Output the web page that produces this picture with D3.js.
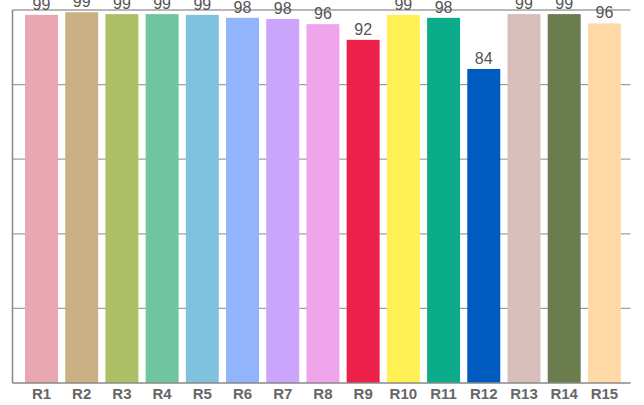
<!DOCTYPE html>
<html><head><meta charset="utf-8">
<script src="https://cdn.jsdelivr.net/npm/d3@7"></script>
<style>html,body{margin:0;padding:0;background:#fff;overflow:hidden}</style>
</head><body>
<svg id="c" width="644" height="405"></svg>
<script>
const categories = ["R1","R2","R3","R4","R5","R6","R7","R8","R9","R10","R11","R12","R13","R14","R15"];
const values = [98.7, 99.4, 98.9, 98.9, 98.7, 97.9, 97.6, 96.2, 92.0, 98.7, 97.9, 84.2, 98.9, 98.9, 96.4];
const colors = ["#e8a6b0","#cbb083","#adc066","#6fc5a0","#80c1df","#91b4fc","#cba4fc","#f0a4ec","#ec2049","#fff153","#0aac8a","#005bc0","#d8bfbb","#6b7c4f","#ffd9a6"];
const yTicks = [0, 20, 40, 60, 80, 100];

(function () {
const svg = d3.select("#c");
const mLeft = 12.5, mRight = 630.5, mTop = 10, mBottom = 383;
const x = d3.scaleBand().domain(categories).range([mLeft, mRight]).paddingInner(0.18).paddingOuter(0.275).align(0.565);
const y = d3.scaleLinear().domain([0, 100]).range([mBottom, mTop]);

// gridlines
svg.append("g").selectAll("line").data(yTicks.slice(1)).join("line")
  .attr("x1", mLeft).attr("x2", mRight)
  .attr("y1", d => y(d)).attr("y2", d => y(d))
  .attr("stroke", "#a0a0a0").attr("stroke-width", 1.3);

// bars
svg.append("g").selectAll("rect").data(values).join("rect")
  .attr("x", (d, i) => x(categories[i]))
  .attr("width", x.bandwidth())
  .attr("y", d => y(d))
  .attr("height", d => y(0) - y(d))
  .attr("fill", (d, i) => colors[i]);

// value labels
svg.append("g").selectAll("text").data(values).join("text")
  .attr("x", (d, i) => x(categories[i]) + x.bandwidth() / 2)
  .attr("y", d => y(d) - 5)
  .attr("text-anchor", "middle")
  .attr("font-family", "Liberation Sans, Arial, sans-serif")
  .attr("font-size", 16)
  .attr("fill", "#555")
  .text(d => Math.round(d));

// x axis
const xAxis = svg.append("g").attr("transform", `translate(0,${mBottom})`)
  .call(d3.axisBottom(x).tickSize(0).tickPadding(5));
xAxis.select(".domain").remove();
xAxis.selectAll("text")
  .attr("font-family", "Liberation Sans, Arial, sans-serif")
  .attr("font-size", 15).attr("font-weight", "bold").attr("fill", "#666");
svg.append("line").attr("x1", mLeft).attr("x2", mRight).attr("y1", mBottom).attr("y2", mBottom)
  .attr("stroke", "#888").attr("stroke-width", 1.5);

// y axis line
svg.append("line").attr("x1", mLeft).attr("x2", mLeft).attr("y1", mTop).attr("y2", mBottom)
  .attr("stroke", "#888").attr("stroke-width", 1.5);
})();
</script>
</body></html>
